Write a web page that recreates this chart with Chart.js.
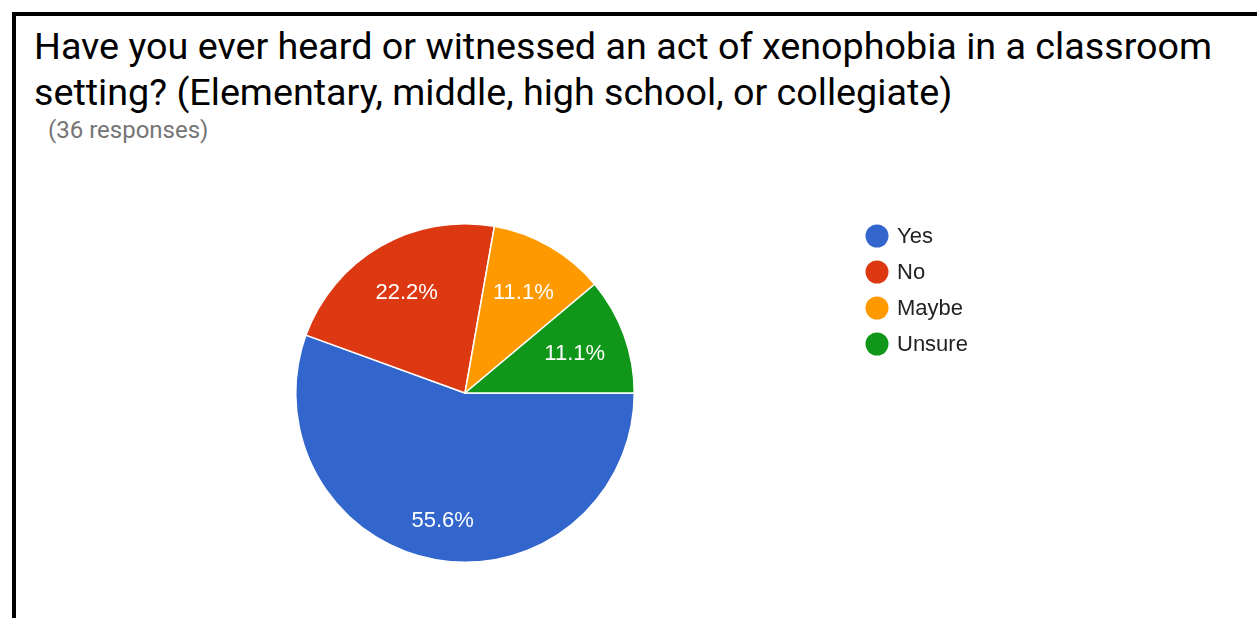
<!DOCTYPE html>
<html>
<head>
<meta charset="utf-8">
<script src="https://cdn.jsdelivr.net/npm/chart.js@4/dist/chart.umd.min.js"></script>
<style>
  html, body { margin: 0; padding: 0; background: #fff; width: 1257px; height: 618px; overflow: hidden; }
  #frame { position: absolute; left: 12px; top: 12px; width: 1400px; height: 800px; border-top: 4px solid #000; border-left: 4px solid #000; box-sizing: border-box; }
  #title { position: absolute; left: 34px; top: 23px; font-family: Roboto, sans-serif; font-size: 37.7px; line-height: 46px; color: #000; white-space: nowrap; }
  #subtitle { position: absolute; left: 48px; top: 116px; font-family: Roboto, sans-serif; font-size: 24px; line-height: 28px; color: #757575; white-space: nowrap; }
  #wrap { position: absolute; left: 0; top: 0; width: 1257px; height: 618px; }
</style>
</head>
<body>
<div id="frame"></div>
<div id="title">Have you ever heard or witnessed an act of xenophobia in a classroom<br>setting? (Elementary, middle, high school, or collegiate)</div>
<div id="subtitle">(36 responses)</div>
<div id="wrap"><canvas id="c" width="1257" height="618"></canvas></div>
<script>
const categories = ["Yes", "No", "Maybe", "Unsure"];
const responses = [20, 8, 4, 4];
const sliceColors = ["#3366CC", "#DC3912", "#FF9900", "#109618"];

const labelPlugin = {
  id: 'sliceLabels',
  afterDatasetsDraw(chart) {
    const ctx = chart.ctx;
    const meta = chart.getDatasetMeta(0);
    const total = responses.reduce((a, b) => a + b, 0);
    ctx.save();
    ctx.fillStyle = '#ffffff';
    ctx.font = '22px "Liberation Sans", Arial, sans-serif';
    ctx.textAlign = 'center';
    ctx.textBaseline = 'middle';
    meta.data.forEach((arc, i) => {
      const p = arc.getProps(['x', 'y', 'startAngle', 'endAngle', 'outerRadius']);
      const mid = (p.startAngle + p.endAngle) / 2;
      const f = responses[i] / total > 0.5 ? 0.76 : 0.69;
      const x = p.x + Math.cos(mid) * p.outerRadius * f;
      const y = p.y + Math.sin(mid) * p.outerRadius * f;
      ctx.fillText((responses[i] / total * 100).toFixed(1) + '%', x, y + 1);
    });
    ctx.restore();
  }
};

const legendPlugin = {
  id: 'sideLegend',
  afterDraw(chart) {
    const ctx = chart.ctx;
    const ds = chart.data.datasets[0];
    ctx.save();
    ctx.font = '22px "Liberation Sans", Arial, sans-serif';
    ctx.textBaseline = 'middle';
    ctx.textAlign = 'left';
    chart.data.labels.forEach((lab, i) => {
      const cy = 236 + i * 36;
      ctx.beginPath();
      ctx.arc(877, cy, 11.5, 0, Math.PI * 2);
      ctx.fillStyle = ds.backgroundColor[i];
      ctx.fill();
      ctx.fillStyle = '#222222';
      ctx.fillText(lab, 897, cy + 1);
    });
    ctx.restore();
  }
};

new Chart(document.getElementById('c'), {
  type: 'pie',
  data: {
    labels: categories,
    datasets: [{
      data: responses,
      backgroundColor: sliceColors,
      borderColor: '#ffffff',
      borderWidth: 1.5
    }]
  },
  options: {
    responsive: false,
    animation: false,
    rotation: 90,
    layout: { padding: { left: 295, right: 622, top: 223, bottom: 55 } },
    plugins: {
      legend: { display: false },
      tooltip: { enabled: false },
      title: { display: false }
    }
  },
  plugins: [labelPlugin, legendPlugin]
});
</script>
</body>
</html>
